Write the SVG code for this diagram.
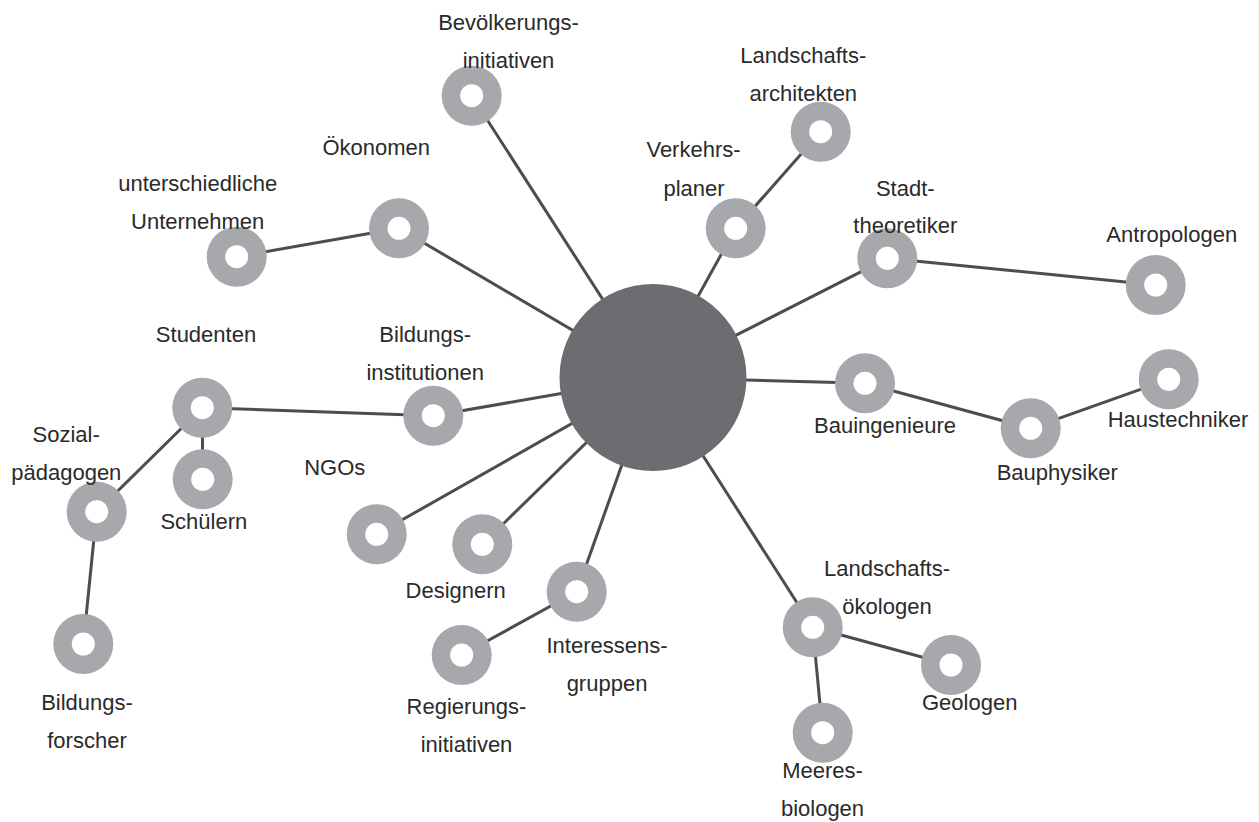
<svg xmlns="http://www.w3.org/2000/svg" width="1259" height="822" viewBox="0 0 1259 822">
<style>
.bg{fill:#ffffff}
.edge{stroke:#4d4d4f;stroke-width:3;fill:none;stroke-linecap:butt}
.ring{fill:#a7a8ab}
.hole{fill:#ffffff}
.hub{fill:#6d6c70}
.lbl{font-family:"Liberation Sans",Arial,sans-serif;font-size:22px;fill:#2a2a2a;text-anchor:middle}
</style>
<rect class="bg" x="0" y="0" width="1259" height="822"/>
<g id="connectors">
<line class="edge" x1="653" y1="377.5" x2="471.7" y2="95.7"/>
<line class="edge" x1="653" y1="377.5" x2="399" y2="228.3"/>
<line class="edge" x1="399" y1="228.3" x2="236.7" y2="256.7"/>
<line class="edge" x1="653" y1="377.5" x2="735.7" y2="228.3"/>
<line class="edge" x1="735.7" y1="228.3" x2="820.7" y2="131.7"/>
<line class="edge" x1="653" y1="377.5" x2="887.3" y2="258.3"/>
<line class="edge" x1="887.3" y1="258.3" x2="1155.7" y2="285"/>
<line class="edge" x1="653" y1="377.5" x2="865" y2="383.3"/>
<line class="edge" x1="865" y1="383.3" x2="1030.7" y2="428.3"/>
<line class="edge" x1="1030.7" y1="428.3" x2="1168.7" y2="379.3"/>
<line class="edge" x1="653" y1="377.5" x2="812.7" y2="627.3"/>
<line class="edge" x1="812.7" y1="627.3" x2="951" y2="665"/>
<line class="edge" x1="812.7" y1="627.3" x2="822.7" y2="732.7"/>
<line class="edge" x1="653" y1="377.5" x2="576.7" y2="591.7"/>
<line class="edge" x1="576.7" y1="591.7" x2="461.7" y2="655"/>
<line class="edge" x1="653" y1="377.5" x2="482.3" y2="544.3"/>
<line class="edge" x1="653" y1="377.5" x2="376.7" y2="534.3"/>
<line class="edge" x1="653" y1="377.5" x2="433.3" y2="415.7"/>
<line class="edge" x1="433.3" y1="415.7" x2="202.3" y2="407.7"/>
<line class="edge" x1="202.3" y1="407.7" x2="202.7" y2="479.3"/>
<line class="edge" x1="202.3" y1="407.7" x2="96.7" y2="511.7"/>
<line class="edge" x1="96.7" y1="511.7" x2="83.3" y2="644"/>
</g>
<g id="hub"><circle class="hub" cx="653" cy="377.5" r="93.5"/></g>
<g id="n-bevoelkerung"><circle class="ring" cx="471.7" cy="95.7" r="30"/><circle class="hole" cx="471.7" cy="95.7" r="11.5"/>
<text class="lbl" x="508.5" y="30">Bevölkerungs-</text><text class="lbl" x="508.5" y="68.3">initiativen</text></g>
<g id="n-oekonomen"><circle class="ring" cx="399" cy="228.3" r="30"/><circle class="hole" cx="399" cy="228.3" r="11.5"/>
<text class="lbl" x="376.2" y="155">Ökonomen</text></g>
<g id="n-unternehmen"><circle class="ring" cx="236.7" cy="256.7" r="30"/><circle class="hole" cx="236.7" cy="256.7" r="11.5"/>
<text class="lbl" x="197.7" y="190.7">unterschiedliche</text><text class="lbl" x="197.7" y="229">Unternehmen</text></g>
<g id="n-verkehr"><circle class="ring" cx="735.7" cy="228.3" r="30"/><circle class="hole" cx="735.7" cy="228.3" r="11.5"/>
<text class="lbl" x="693.5" y="157.3">Verkehrs-</text><text class="lbl" x="694" y="195.7">planer</text></g>
<g id="n-landarch"><circle class="ring" cx="820.7" cy="131.7" r="30"/><circle class="hole" cx="820.7" cy="131.7" r="11.5"/>
<text class="lbl" x="803.3" y="63.3">Landschafts-</text><text class="lbl" x="803.3" y="100.7">architekten</text></g>
<g id="n-stadt"><circle class="ring" cx="887.3" cy="258.3" r="30"/><circle class="hole" cx="887.3" cy="258.3" r="11.5"/>
<text class="lbl" x="905.3" y="195.7">Stadt-</text><text class="lbl" x="905.3" y="233.3">theoretiker</text></g>
<g id="n-antro"><circle class="ring" cx="1155.7" cy="285" r="30"/><circle class="hole" cx="1155.7" cy="285" r="11.5"/>
<text class="lbl" x="1171.7" y="241.7">Antropologen</text></g>
<g id="n-bauing"><circle class="ring" cx="865" cy="383.3" r="30"/><circle class="hole" cx="865" cy="383.3" r="11.5"/>
<text class="lbl" x="885" y="433.3">Bauingenieure</text></g>
<g id="n-bauphys"><circle class="ring" cx="1030.7" cy="428.3" r="30"/><circle class="hole" cx="1030.7" cy="428.3" r="11.5"/>
<text class="lbl" x="1057.2" y="479.5">Bauphysiker</text></g>
<g id="n-haustech"><circle class="ring" cx="1168.7" cy="379.3" r="30"/><circle class="hole" cx="1168.7" cy="379.3" r="11.5"/>
<text class="lbl" x="1178" y="426.7">Haustechniker</text></g>
<g id="n-landoeko"><circle class="ring" cx="812.7" cy="627.3" r="30"/><circle class="hole" cx="812.7" cy="627.3" r="11.5"/>
<text class="lbl" x="887" y="576">Landschafts-</text><text class="lbl" x="887" y="614">ökologen</text></g>
<g id="n-geologen"><circle class="ring" cx="951" cy="665" r="30"/><circle class="hole" cx="951" cy="665" r="11.5"/>
<text class="lbl" x="969.7" y="710">Geologen</text></g>
<g id="n-meeres"><circle class="ring" cx="822.7" cy="732.7" r="30"/><circle class="hole" cx="822.7" cy="732.7" r="11.5"/>
<text class="lbl" x="822.5" y="777.7">Meeres-</text><text class="lbl" x="822.5" y="816">biologen</text></g>
<g id="n-interessen"><circle class="ring" cx="576.7" cy="591.7" r="30"/><circle class="hole" cx="576.7" cy="591.7" r="11.5"/>
<text class="lbl" x="607" y="652.7">Interessens-</text><text class="lbl" x="607" y="690.7">gruppen</text></g>
<g id="n-regierung"><circle class="ring" cx="461.7" cy="655" r="30"/><circle class="hole" cx="461.7" cy="655" r="11.5"/>
<text class="lbl" x="466.5" y="714">Regierungs-</text><text class="lbl" x="466.5" y="752.3">initiativen</text></g>
<g id="n-designern"><circle class="ring" cx="482.3" cy="544.3" r="30"/><circle class="hole" cx="482.3" cy="544.3" r="11.5"/>
<text class="lbl" x="455.7" y="598.3">Designern</text></g>
<g id="n-ngos"><circle class="ring" cx="376.7" cy="534.3" r="30"/><circle class="hole" cx="376.7" cy="534.3" r="11.5"/>
<text class="lbl" x="334.8" y="475">NGOs</text></g>
<g id="n-bildinst"><circle class="ring" cx="433.3" cy="415.7" r="30"/><circle class="hole" cx="433.3" cy="415.7" r="11.5"/>
<text class="lbl" x="425.2" y="342.3">Bildungs-</text><text class="lbl" x="425.2" y="380">institutionen</text></g>
<g id="n-studenten"><circle class="ring" cx="202.3" cy="407.7" r="30"/><circle class="hole" cx="202.3" cy="407.7" r="11.5"/>
<text class="lbl" x="206" y="342.3">Studenten</text></g>
<g id="n-schueler"><circle class="ring" cx="202.7" cy="479.3" r="30"/><circle class="hole" cx="202.7" cy="479.3" r="11.5"/>
<text class="lbl" x="203.8" y="529.3">Schülern</text></g>
<g id="n-sozial"><circle class="ring" cx="96.7" cy="511.7" r="30"/><circle class="hole" cx="96.7" cy="511.7" r="11.5"/>
<text class="lbl" x="66.2" y="442.3">Sozial-</text><text class="lbl" x="66.3" y="480">pädagogen</text></g>
<g id="n-bildforsch"><circle class="ring" cx="83.3" cy="644" r="30"/><circle class="hole" cx="83.3" cy="644" r="11.5"/>
<text class="lbl" x="87" y="710">Bildungs-</text><text class="lbl" x="87" y="748.3">forscher</text></g>
</svg>
